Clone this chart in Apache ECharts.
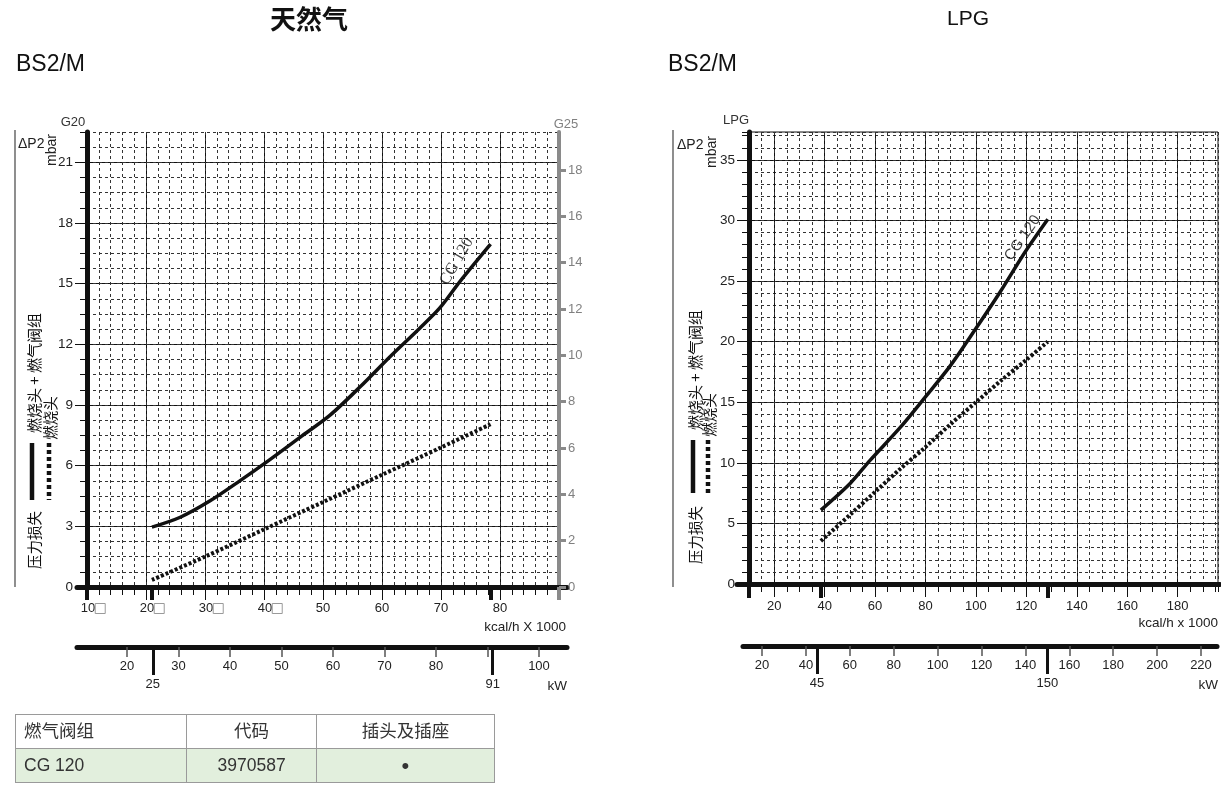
<!DOCTYPE html>
<html>
<head>
<meta charset="utf-8">
<script src="https://cdn.jsdelivr.net/npm/echarts@6/dist/echarts.min.js"></script>
<style>
  html, body { margin: 0; padding: 0; background: #fff; }
  #chart { position: absolute; left: 0; top: 0; width: 1221px; height: 787px; }
  #valves { position: absolute; left: 15px; top: 714px; border-collapse: collapse; width: 480px;
            font-family: "Liberation Sans", "Noto Sans CJK SC", sans-serif; font-size: 17.5px; color: #333; }
  #valves td { border: 1.5px solid #9a9a9a; height: 33px; padding: 0 8px; line-height: 33px; }
  #valves tr:nth-child(2) td { background: #e2efdd; }
  #valves td.dot { font-size: 22px; }
</style>
</head>
<body>
<div id="chart"></div>
<table id="valves"></table>
<script>
// ---- Natural gas (G20 / G25): kcal/h x 1000 vs mbar ----
const ngHeadValve = [[21, 2.96], [25.8, 3.45], [30.8, 4.25], [35.9, 5.25], [41, 6.3], [46.1, 7.4], [51.2, 8.5],
                     [56.3, 9.9], [61.4, 11.4], [66.4, 12.8], [69.8, 13.8], [73.2, 15.1], [78.4, 16.95]];
const ngHead = [[21, 0.35], [30, 1.5], [40, 2.85], [50, 4.2], [60, 5.55], [70, 6.9], [78.4, 8.05]];
const ngG20Ticks = [0, 3, 6, 9, 12, 15, 18, 21];
const ngG25Ticks = [0, 2, 4, 6, 8, 10, 12, 14, 16, 18];
const ngKwTicks = [20, 30, 40, 50, 60, 70, 80, 90, 100];
const ngKwLabels = [20, 30, 40, 50, 60, 70, 80, 100];
const ngKwRange = [25, 91];
const ngKcalRange = [21, 78.4];

// ---- LPG: kcal/h x 1000 vs mbar ----
const lpgHeadValve = [[38.5, 6.1], [50.1, 8.3], [58, 10.2], [69.9, 12.9], [79.8, 15.4], [89.8, 18],
                      [99.7, 21], [109.6, 24.1], [119.5, 27.4], [128.5, 30.1]];
const lpgHead = [[38.5, 3.55], [50, 5.7], [60, 7.6], [70, 9.5], [80, 11.3], [90, 13.2], [100, 15.0],
                 [110, 16.8], [120, 18.5], [128.5, 20.0]];
const lpgYTicks = [0, 5, 10, 15, 20, 25, 30, 35];
const lpgKcalTicks = [20, 40, 60, 80, 100, 120, 140, 160, 180];
const lpgKwTicks = [20, 40, 60, 80, 100, 120, 140, 160, 180, 200, 220];
const lpgKwRange = [45, 150];
const lpgKcalRange = [38.5, 128.5];

// ---- valve table ----
const tableHead = ['燃气阀组', '代码', '插头及插座'];
const tableRow = ['CG 120', '3970587', '•'];
const valveLabel = 'CG 120';

const sans = '"Liberation Sans", Arial, sans-serif';
const cjk = '"Noto Sans CJK SC", sans-serif';
const ink = '#111';
const labelColor = '#222';

const table = document.getElementById('valves');
[tableHead, tableRow].forEach(function (row, r) {
  const tr = document.createElement('tr');
  row.forEach(function (txt, i) {
    const td = document.createElement('td');
    td.textContent = txt;
    td.style.textAlign = i === 0 ? 'left' : 'center';
    td.style.width = ['156px', '113px', '163px'][i];
    if (r === 1 && i === 2) td.className = 'dot';
    tr.appendChild(td);
  });
  table.appendChild(tr);
});

function hiddenY(grid) {
  return { type: 'value', gridIndex: grid, show: false, min: 0, max: 1 };
}
function baseLine(grid) {
  return { type: 'value', gridIndex: grid, position: 'bottom', min: 0, max: 1,
    axisLine: { show: true, onZero: false, lineStyle: { color: ink, width: 5 } },
    axisTick: { show: false }, axisLabel: { show: false }, splitLine: { show: false } };
}
function markerAxis(grid, min, max, values, len, width, color, labelMargin) {
  return { type: 'value', gridIndex: grid, position: 'bottom', min: min, max: max,
    axisLine: { show: false, onZero: false },
    axisTick: { show: true, customValues: values, length: len, lineStyle: { color: color, width: width } },
    axisLabel: labelMargin ? { show: true, customValues: values, margin: labelMargin, fontSize: 13,
      fontFamily: sans, color: labelColor } : { show: false },
    splitLine: { show: false } };
}
function kwAxis(grid, min, max, ticks, labels) {
  return { type: 'value', gridIndex: grid, position: 'bottom', min: min, max: max,
    axisLine: { show: true, onZero: false, lineStyle: { color: ink, width: 5 } },
    axisTick: { show: true, customValues: ticks, length: 10, lineStyle: { color: '#555', width: 1.5 } },
    axisLabel: { show: true, customValues: labels, margin: 13, fontSize: 13, fontFamily: sans, color: labelColor },
    splitLine: { show: false } };
}
function minorAxis(grid, pos, min, max, step, tickLen) {
  return { type: 'value', gridIndex: grid, position: pos, min: min, max: max, interval: step,
    axisLine: { show: false, onZero: false },
    axisTick: { show: true, length: tickLen, lineStyle: { color: ink, width: 1 } },
    axisLabel: { show: false },
    splitLine: { show: true, lineStyle: { color: '#333', width: 1, type: [3, 3] } } };
}

const xAxis = [
  // 0: NG kcal major
  { type: 'value', gridIndex: 0, position: 'bottom', min: 10, max: 90, interval: 10,
    axisLine: { show: false, onZero: false },
    axisTick: { show: true, length: 13, lineStyle: { color: ink, width: 1 } },
    axisLabel: { margin: 15, fontSize: 13, fontFamily: sans, color: labelColor,
      formatter: function (v) { return v === 90 ? '' : (v <= 40 ? '{t| }' + v + '{b| }' : String(v)); },
      rich: {
        t: { width: 12, height: 10 },
        b: { width: 10, height: 10, borderColor: '#9a9a9a', borderWidth: 1, padding: 0 }
      } },
    splitLine: { show: true, lineStyle: { color: ink, width: 1 } } },
  // 1: NG kcal minor
  minorAxis(0, 'bottom', 10, 90, 2, 8),
  // 2: NG burner range marks
  markerAxis(0, 10, 90, [10].concat(ngKcalRange), 13, 4, ink, 0),
  // 3: G25 axis foot
  markerAxis(0, 10, 90, [90], 13, 4, '#8a8a8a', 0),
  // 4: NG baseline
  baseLine(1),
  // 5: NG kW
  kwAxis(2, 10.29, 105.44, ngKwTicks, ngKwLabels),
  // 6: NG kW range marks
  markerAxis(2, 10.29, 105.44, ngKwRange, 28, 3, ink, 31),
  // 7: LPG kcal major
  { type: 'value', gridIndex: 3, position: 'bottom', min: 10, max: 196, interval: 10,
    axisLine: { show: false, onZero: false },
    axisTick: { show: true, customValues: lpgKcalTicks, length: 13, lineStyle: { color: ink, width: 1 } },
    axisLabel: { customValues: lpgKcalTicks, margin: 16, fontSize: 13, fontFamily: sans, color: labelColor },
    splitLine: { show: true, lineStyle: { color: ink, width: 1 } } },
  // 8: LPG kcal minor
  minorAxis(3, 'bottom', 10, 196, 5, 8),
  // 9: LPG burner range marks
  markerAxis(3, 10, 196, [10].concat(lpgKcalRange), 14, 4, ink, 0),
  // 10: LPG baseline
  baseLine(4),
  // 11: LPG kW
  kwAxis(5, 11.34, 227.3, lpgKwTicks, lpgKwTicks),
  // 12: LPG kW range marks
  markerAxis(5, 11.34, 227.3, lpgKwRange, 28, 3, ink, 31)
];

const yAxis = [
  // 0: G20
  { type: 'value', gridIndex: 0, position: 'left', min: 0, max: 22.5, interval: 3,
    axisLine: { show: true, onZero: false, lineStyle: { color: ink, width: 5 } },
    axisTick: { show: true, customValues: ngG20Ticks, length: 12, lineStyle: { color: ink, width: 1 } },
    axisLabel: { customValues: ngG20Ticks, margin: 14, fontSize: 13.5, fontFamily: sans, color: labelColor },
    splitLine: { show: true, lineStyle: { color: ink, width: 1 } } },
  // 1: G20 minor
  minorAxis(0, 'left', 0, 22.5, 0.75, 7),
  // 2: G25
  { type: 'value', gridIndex: 0, position: 'right', min: 0, max: 19.64, interval: 2,
    axisLine: { show: true, onZero: false, lineStyle: { color: '#8a8a8a', width: 4 } },
    axisTick: { show: true, customValues: ngG25Ticks, length: 7, lineStyle: { color: '#8a8a8a', width: 3 } },
    axisLabel: { customValues: ngG25Ticks, margin: 9, fontSize: 13, fontFamily: sans, color: '#808080' },
    splitLine: { show: false } },
  hiddenY(1),
  hiddenY(2),
  // 5: LPG
  { type: 'value', gridIndex: 3, position: 'left', min: 0, max: 37.3, interval: 5,
    axisLine: { show: true, onZero: false, lineStyle: { color: ink, width: 5 } },
    axisTick: { show: true, customValues: lpgYTicks, length: 12, lineStyle: { color: ink, width: 1 } },
    axisLabel: { customValues: lpgYTicks, margin: 14, fontSize: 13.5, fontFamily: sans, color: labelColor },
    splitLine: { show: true, lineStyle: { color: ink, width: 1 } } },
  // 6: LPG minor
  minorAxis(3, 'left', 0, 37.3, 1, 7),
  hiddenY(4),
  hiddenY(5)
];

const grid = [
  { left: 87, top: 132, width: 472, height: 455 },
  { left: 77, top: 585, width: 490, height: 2 },
  { left: 77, top: 645, width: 490, height: 2 },
  { left: 749, top: 132, width: 469, height: 452, show: true, borderColor: ink, borderWidth: 1, backgroundColor: 'transparent' },
  { left: 737, top: 582, width: 483, height: 2 },
  { left: 743, top: 644, width: 474, height: 2 }
];

function curve(data, xi, yi, dotted) {
  return { type: 'line', xAxisIndex: xi, yAxisIndex: yi, data: data, smooth: 0.3, symbol: 'none', z: 5,
    lineStyle: dotted ? { color: ink, width: 4, type: [3, 2], cap: 'butt' } : { color: ink, width: 3.5 } };
}
// label offset is expressed in the rotated text frame
function curveLabel(point, xi, yi, rotate, offset, font, size) {
  return { type: 'scatter', xAxisIndex: xi, yAxisIndex: yi, data: [point], symbolSize: 0, silent: true, z: 6,
    label: { show: true, position: 'inside', formatter: valveLabel, rotate: rotate, offset: offset,
      fontFamily: font, fontSize: size, color: ink } };
}

const series = [
  curve(ngHeadValve, 0, 0, false),
  curve(ngHead, 0, 0, true),
  curveLabel(ngHeadValve[11], 0, 0, 60, [16, -13], '"Liberation Serif", serif', 16.5),
  curve(lpgHeadValve, 7, 5, false),
  curve(lpgHead, 7, 5, true),
  curveLabel(lpgHeadValve[8], 7, 5, 55, [10, -10], sans, 15)
];

function txt(text, x, y, font, fill, align, rotation) {
  return { type: 'text', x: x, y: y, rotation: rotation || 0, silent: true,
    style: { text: text, font: font, fill: fill || ink, align: align || 'center', verticalAlign: 'middle' } };
}
function vline(x, y1, y2, width, color, dash) {
  return { type: 'line', silent: true, shape: { x1: x, y1: y1, x2: x, y2: y2 },
    style: { stroke: color || ink, lineWidth: width, lineDash: dash || null } };
}
const up = Math.PI / 2;

function legendBlock(x1, x2, top, bottom, textTop, lossCenter) {
  return [
    vline(x1, top, bottom, 4.5, ink),
    vline(x2, top, bottom, 4.5, ink, [4, 3]),
    txt('燃烧头 + 燃气阀组', x1 + 2, textTop, '15px ' + cjk, ink, 'center', up),
    txt('燃烧头', x2 + 1, top - 25, '14.5px ' + cjk, ink, 'center', up),
    txt('压力损失', x1 + 2, lossCenter, '14.5px ' + cjk, ink, 'center', up)
  ];
}

const graphic = [
  txt('天然气', 309, 19, 'bold 26px ' + cjk, ink),
  txt('LPG', 968, 19, '21px ' + sans, ink),
  txt('BS2/M', 16, 65, '23px ' + sans, ink, 'left'),
  txt('BS2/M', 668, 65, '23px ' + sans, ink, 'left'),
  // natural gas panel
  txt('G20', 73, 122, '13px ' + sans, '#333'),
  txt('G25', 566, 124, '13px ' + sans, '#808080'),
  txt('ΔP2', 18, 144, '14px ' + sans, '#222', 'left'),
  txt('mbar', 52, 150, '14px ' + sans, '#222', 'center', up),
  vline(15, 130, 587, 1.2, '#444'),
  txt('kcal/h X 1000', 566, 627, '13.5px ' + sans, '#222', 'right'),
  txt('kW', 567, 686, '13.5px ' + sans, '#222', 'right'),
  // LPG panel
  txt('LPG', 736, 120, '13px ' + sans, '#333'),
  txt('ΔP2', 677, 145, '14px ' + sans, '#222', 'left'),
  txt('mbar', 712, 152, '14px ' + sans, '#222', 'center', up),
  vline(673, 130, 587, 1.2, '#444'),
  txt('kcal/h x 1000', 1218, 623, '13.5px ' + sans, '#222', 'right'),
  txt('kW', 1218, 685, '13.5px ' + sans, '#222', 'right')
].concat(legendBlock(32, 49, 443, 500, 373, 540))
 .concat(legendBlock(693, 708, 440, 493, 370, 535));

const chart = echarts.init(document.getElementById('chart'), null, { renderer: 'canvas' });
chart.setOption({
  animation: false,
  backgroundColor: '#fff',
  grid: grid,
  xAxis: xAxis,
  yAxis: yAxis,
  series: series,
  graphic: graphic
});
</script>
</body>
</html>
